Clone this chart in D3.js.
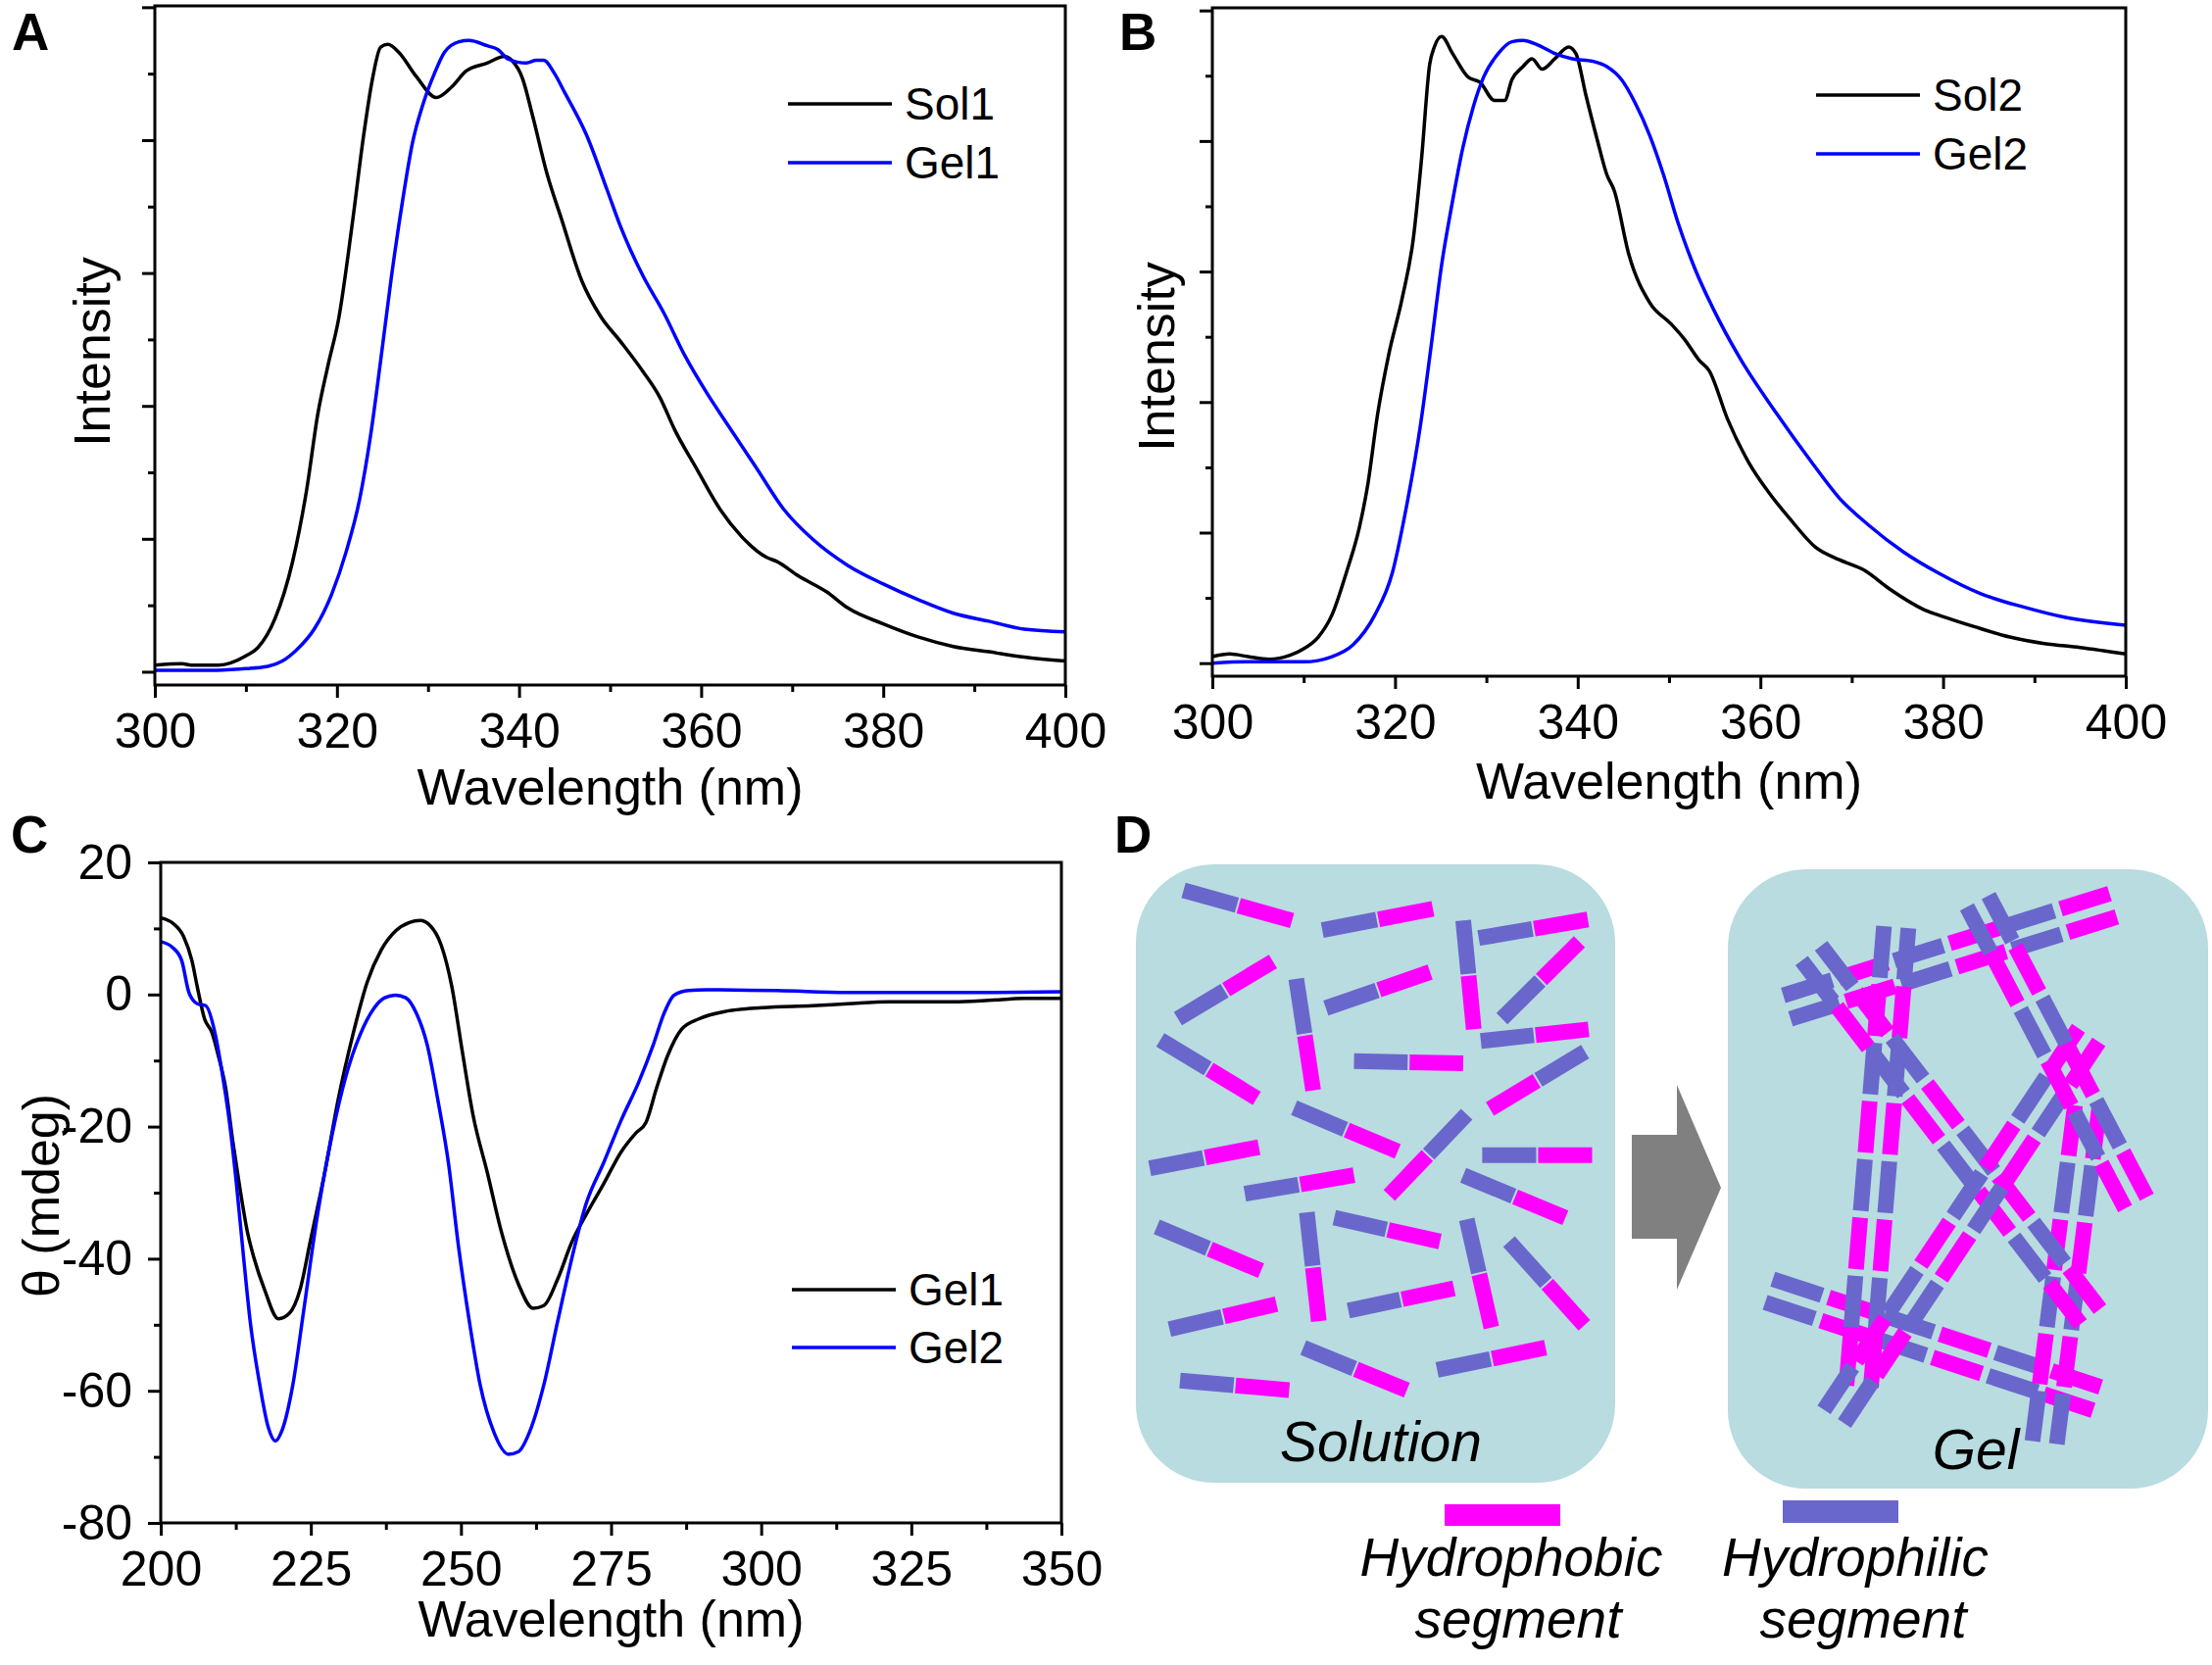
<!DOCTYPE html>
<html>
<head>
<meta charset="utf-8">
<script src="https://cdn.jsdelivr.net/npm/d3@7"></script>
<style>
body { margin: 0; background: #fff; }
text { font-family: "Liberation Sans", Arial, sans-serif; }
</style>
</head>
<body>
<svg width="2257" height="1699"></svg>
<script>
// ---- data ----
// A: fluorescence, wavelength (nm) vs intensity (a.u.)
var sol1 = [[300,0.05],[303,0.06],[304,0.05],[307,0.05],[310,0.12],[311.3,0.18],[313.2,0.40],[315.1,0.82],[316.7,1.38],[317.9,1.94],[319,2.30],[320.2,2.66],[321.7,3.38],[322.9,4.02],[323.9,4.46],[324.8,4.70],[325.6,4.72],[326.8,4.66],[328.7,4.48],[330.9,4.32],[332.6,4.40],[334.2,4.52],[336.5,4.58],[338.4,4.63],[339.2,4.60],[340.4,4.46],[341.5,4.18],[343.1,3.74],[344.6,3.42],[346.9,2.94],[348.9,2.68],[351.2,2.48],[353.6,2.26],[355.5,2.06],[357.1,1.82],[359.4,1.54],[362.1,1.22],[364.4,1.02],[367.2,0.86],[368.3,0.83],[370.7,0.72],[373.8,0.60],[376.1,0.48],[380,0.36],[383.9,0.26],[387.7,0.19],[391.6,0.15],[395.5,0.11],[400,0.08]];
var gel1 = [[300,0.01],[306.2,0.01],[309.3,0.02],[312.4,0.04],[314,0.08],[315.5,0.16],[317.5,0.32],[319.4,0.58],[321,0.90],[322.5,1.30],[323.7,1.78],[324.8,2.34],[326,2.98],[327.2,3.54],[328.3,3.98],[329.5,4.28],[330.7,4.50],[331.8,4.66],[333.4,4.74],[334.5,4.75],[336.5,4.71],[337.7,4.68],[338.8,4.61],[340.8,4.58],[341.9,4.60],[342.7,4.60],[343.9,4.50],[345,4.36],[347.4,4.04],[349.7,3.62],[351.2,3.34],[353.6,2.98],[355.9,2.70],[358.2,2.38],[360.6,2.10],[362.9,1.86],[366,1.54],[369.1,1.22],[372.2,1.00],[376.1,0.80],[380,0.66],[383.9,0.54],[387.7,0.44],[391.6,0.38],[395.5,0.32],[400,0.30]];
// B
var sol2 = [[300,0.05],[301.9,0.07],[303.9,0.05],[306.2,0.03],[308.5,0.06],[310,0.11],[311.6,0.20],[313.1,0.37],[314.7,0.70],[316.1,1.04],[317,1.36],[318.1,1.91],[319.3,2.36],[320.8,2.80],[322,3.25],[322.9,3.86],[323.8,4.59],[324.3,4.72],[325.1,4.80],[326.3,4.67],[328,4.49],[329.3,4.45],[330.9,4.31],[332,4.31],[332.8,4.47],[334,4.57],[335,4.63],[336.1,4.55],[337.5,4.63],[339,4.72],[339.8,4.67],[340.9,4.35],[342.1,4.02],[343.2,3.74],[344,3.62],[345.6,3.13],[347.9,2.76],[350.2,2.60],[351.7,2.48],[353.3,2.32],[354.4,2.24],[356.4,1.87],[358.7,1.54],[361,1.30],[363.3,1.10],[366,0.89],[368.7,0.79],[371.4,0.71],[374.1,0.57],[377.9,0.41],[380.3,0.35],[383.4,0.28],[387.3,0.20],[391.1,0.15],[395,0.12],[400,0.07]];
var gel2 = [[300,0],[303.9,0.01],[310,0.01],[313.1,0.05],[315.4,0.14],[317.8,0.37],[319.7,0.69],[321.2,1.18],[322.8,1.83],[323.9,2.40],[325.1,3.05],[326.3,3.54],[327.4,3.94],[328.6,4.27],[329.7,4.49],[331.3,4.67],[332.8,4.76],[334,4.77],[335.5,4.74],[337.5,4.67],[339.4,4.63],[341.7,4.61],[343.2,4.57],[344.8,4.47],[346.3,4.29],[347.9,4.04],[349.4,3.74],[351,3.37],[352.9,3.01],[354.8,2.72],[357.9,2.32],[361.8,1.91],[365.6,1.54],[368.7,1.26],[371.8,1.06],[375.7,0.85],[379.5,0.69],[384.2,0.53],[388.8,0.43],[393.4,0.35],[400,0.29]];
// C: circular dichroism, wavelength (nm) vs theta (mdeg)
var cdGel1 = [[200,11.6],[202,10.8],[203.8,8.8],[205.2,5.1],[206.1,1.1],[207.3,-3.7],[208.5,-5.7],[209.6,-9.3],[210.8,-14.1],[212,-22.2],[213.2,-29.4],[214.4,-35.8],[215.5,-39.8],[217.3,-44.7],[219.6,-49.1],[221.4,-48.3],[223.2,-44.7],[224.9,-37.4],[227.3,-27],[229.6,-15.7],[232,-6.1],[234.4,1.9],[236.7,6.7],[239.1,9.6],[241.4,10.9],[243.2,11.2],[244.9,10.4],[246.7,7.5],[248.5,1.1],[250.2,-8.5],[252,-18.2],[254.4,-27],[256.7,-35.8],[259.6,-43.9],[262,-47.5],[263.8,-47.1],[266.1,-43.1],[268.5,-37.4],[270.8,-33.4],[273.8,-28.6],[276.7,-23.8],[279.1,-21],[280.8,-19.4],[282.6,-14.1],[284.4,-9.3],[286.7,-5.3],[289.6,-3.7],[294.4,-2.5],[300.2,-2],[308.5,-1.7],[314.4,-1.4],[321.4,-1.1],[332,-1.1],[337.9,-0.9],[343.8,-0.6],[350,-0.6]];
var cdGel2 = [[200,8],[202,7.1],[203.5,5.1],[204.7,0.3],[206.1,-1.4],[207.5,-1.7],[209.1,-6.1],[210.2,-11.7],[211.4,-19],[212.6,-28.6],[213.8,-39.8],[214.9,-49.5],[216.5,-59.1],[217.9,-65.5],[219.1,-67.6],[220.2,-66],[222,-59.1],[223.8,-47.9],[226.1,-33.4],[228.5,-21.4],[230.8,-12.5],[233.2,-6.1],[235.5,-2.1],[237.3,-0.5],[239.1,-0.1],[240.8,-0.5],[242.6,-2.9],[244.4,-7.7],[246.1,-15.7],[247.9,-25.4],[249.6,-38.2],[251.4,-49.5],[253.2,-59.1],[255.5,-66.3],[257.9,-69.6],[259.6,-69.2],[261.4,-66.3],[263.8,-59.1],[266.1,-49.5],[268.5,-39.8],[270.8,-31.8],[273.8,-25.4],[276.7,-19],[279.6,-13.3],[282,-7.7],[283.8,-2.9],[285.5,-0.1],[287.9,0.6],[290.8,0.7],[302.6,0.6],[314.4,0.3],[337.9,0.3],[350,0.4]];

// tick values
var flMajor = [300, 320, 340, 360, 380, 400];
var flMinor = [310, 330, 350, 370, 390];
var intMajor = [0, 1, 2, 3, 4, 5];
var intMinor = [0.5, 1.5, 2.5, 3.5, 4.5];
var cdXMajor = [200, 225, 250, 275, 300, 325, 350];
var cdXMinor = [212.5, 237.5, 262.5, 287.5, 312.5, 337.5];
var cdYMajor = [-80, -60, -40, -20, 0, 20];
var cdYMinor = [-70, -50, -30, -10, 10];

// D: rods in the solution box, [blueEndX, blueEndY, pinkEndX, pinkEndY] (schematic units)
var solRods = [[108,108,262,165],[305,183,462,143],[505,165,520,370],[527,198,682,163],[560,350,670,205],[100,350,235,242],[268,275,292,485],[310,330,458,262],[75,390,212,500],[350,430,505,434],[530,392,683,370],[678,412,543,520],[265,518,412,600],[510,530,400,683],[532,607,688,607],[60,632,215,592],[195,680,350,645],[505,645,650,725],[70,742,218,825],[283,715,300,920],[322,725,472,770],[510,728,545,932],[570,770,677,928],[88,935,240,888],[342,900,492,858],[278,970,425,1050],[468,1012,622,970],[103,1032,258,1050]];
// D: fibre strands in the gel box, [x1, y1, x2, y2, first segment colour]
var gelStrands = [[175,350,1175,95,"b"],[120,1060,1125,1330,"b"],[510,150,395,1300,"b"],[1095,600,965,1440,"m"],[250,215,1105,1125,"b"],[320,1375,1100,420,"b"],[760,85,1245,840,"b"]];

var BLUE = "#0000ff", PINK = "#ff00ff", SLATE = "#6a67cc", TEAL = "#b8dcdf";

var svg = d3.select("svg");

function drawPanel(cfg) {
    var x = d3.scaleLinear().domain(cfg.xDomain).range([cfg.left, cfg.right]);
    var y = d3.scaleLinear().domain(cfg.yDomain).range([cfg.bottom, cfg.top]);
    var g = svg.append("g");

    g.append("g").attr("transform", "translate(0," + cfg.bottom + ")")
        .call(d3.axisBottom(x).tickValues(cfg.xMinor).tickSize(7).tickFormat(""));
    g.append("g").attr("transform", "translate(0," + cfg.bottom + ")")
        .call(d3.axisBottom(x).tickValues(cfg.xMajor).tickSize(13).tickPadding(15)
            .tickFormat(function(d) { return String(d); }));
    g.append("g").attr("transform", "translate(" + cfg.left + ",0)")
        .call(d3.axisLeft(y).tickValues(cfg.yMinor).tickSize(7).tickFormat(""));
    g.append("g").attr("transform", "translate(" + cfg.left + ",0)")
        .call(d3.axisLeft(y).tickValues(cfg.yMajor).tickSize(13).tickPadding(16)
            .tickFormat(cfg.yLabels ? function(d) { return String(d); } : ""));

    g.selectAll(".domain").remove();
    g.selectAll(".tick line").attr("stroke", "#000").attr("stroke-width", 3);
    g.selectAll(".tick text").attr("fill", "#000").attr("font-size", 50)
        .attr("font-family", "Liberation Sans, Arial, sans-serif");

    var line = d3.line()
        .curve(d3.curveMonotoneX)
        .x(function(d) { return x(d[0]); })
        .y(function(d) { return y(d[1]); });

    cfg.series.forEach(function(s) {
        g.append("path")
            .attr("d", line(s.data))
            .attr("fill", "none")
            .attr("stroke", s.color)
            .attr("stroke-width", 3.5)
            .attr("stroke-linejoin", "round");
    });

    g.append("rect")
        .attr("x", cfg.left).attr("y", cfg.top)
        .attr("width", cfg.right - cfg.left).attr("height", cfg.bottom - cfg.top)
        .attr("fill", "none").attr("stroke", "#000").attr("stroke-width", 3);

    // legend
    cfg.series.forEach(function(s, i) {
        var ly = cfg.legendY + i * cfg.legendStep;
        g.append("line")
            .attr("x1", cfg.legendX).attr("x2", cfg.legendX + 106)
            .attr("y1", ly).attr("y2", ly)
            .attr("stroke", s.color).attr("stroke-width", 3.5);
        g.append("text")
            .attr("x", cfg.legendX + 119).attr("y", ly + 16)
            .attr("font-size", 46).text(s.name);
    });

    g.append("text")
        .attr("x", (cfg.left + cfg.right) / 2).attr("y", cfg.titleY)
        .attr("text-anchor", "middle").attr("font-size", 52)
        .text("Wavelength (nm)");
    g.append("text")
        .attr("transform", "translate(" + cfg.yTitleX + "," + cfg.yTitleY + ") rotate(-90)")
        .attr("text-anchor", "middle").attr("font-size", 52)
        .text(cfg.yTitle);
    g.append("text")
        .attr("x", cfg.letterX).attr("y", cfg.letterY)
        .attr("font-size", 53).attr("font-weight", "bold")
        .text(cfg.letter);
}

drawPanel({
    letter: "A", letterX: 12, letterY: 51,
    left: 158, right: 1087, top: 6, bottom: 699,
    xDomain: [300, 400], yDomain: [-0.1, 5.01],
    xMajor: flMajor, xMinor: flMinor, yMajor: intMajor, yMinor: intMinor, yLabels: false,
    series: [{name: "Sol1", data: sol1, color: "#000"}, {name: "Gel1", data: gel1, color: BLUE}],
    legendX: 804, legendY: 106, legendStep: 60,
    titleY: 821, yTitle: "Intensity", yTitleX: 112, yTitleY: 359
});

drawPanel({
    letter: "B", letterX: 1142, letterY: 51,
    left: 1237, right: 2169, top: 8, bottom: 690,
    xDomain: [300, 400], yDomain: [-0.1, 5.02],
    xMajor: flMajor, xMinor: flMinor, yMajor: intMajor, yMinor: intMinor, yLabels: false,
    series: [{name: "Sol2", data: sol2, color: "#000"}, {name: "Gel2", data: gel2, color: BLUE}],
    legendX: 1853, legendY: 97, legendStep: 60,
    titleY: 815, yTitle: "Intensity", yTitleX: 1198, yTitleY: 364
});

drawPanel({
    letter: "C", letterX: 11, letterY: 870,
    left: 164, right: 1083, top: 880, bottom: 1554,
    xDomain: [200, 350], yDomain: [-80, 20],
    xMajor: cdXMajor, xMinor: cdXMinor, yMajor: cdYMajor, yMinor: cdYMinor, yLabels: true,
    series: [{name: "Gel1", data: cdGel1, color: "#000"}, {name: "Gel2", data: cdGel2, color: BLUE}],
    legendX: 808, legendY: 1316, legendStep: 59,
    titleY: 1670, yTitle: "\u03b8 (mdeg)", yTitleX: 60, yTitleY: 1220
});

// ---- panel D: schematic ----
var dg = svg.append("g");
dg.append("text").attr("x", 1137).attr("y", 870)
    .attr("font-size", 53).attr("font-weight", "bold").text("D");

// boxes
dg.append("rect").attr("x", 1159).attr("y", 882).attr("width", 489).attr("height", 631)
    .attr("rx", 80).attr("fill", TEAL);
dg.append("rect").attr("x", 1763).attr("y", 887).attr("width", 490).attr("height", 632)
    .attr("rx", 80).attr("fill", TEAL);

// arrow
dg.append("path")
    .attr("d", "M1665,1158 L1711,1158 L1711,1107 L1756,1212 L1711,1316 L1711,1264 L1665,1264 Z")
    .attr("fill", "#808080");

// solution rods: each a hydrophilic (slate) half and a hydrophobic (pink) half
var sx = d3.scaleLinear().domain([0, 1568]).range([1130, 2257]);
var sy = d3.scaleLinear().domain([0, 1568]).range([850, 1699]);
var rodW = 16;
solRods.forEach(function(r) {
    var x1 = sx(r[0]), y1 = sy(r[1]), x2 = sx(r[2]), y2 = sy(r[3]);
    var mx = (x1 + x2) / 2, my = (y1 + y2) / 2;
    var len = Math.hypot(x2 - x1, y2 - y1);
    var ux = (x2 - x1) / len, uy = (y2 - y1) / len;
    dg.append("line").attr("x1", x1).attr("y1", y1)
        .attr("x2", mx - ux).attr("y2", my - uy)
        .attr("stroke", SLATE).attr("stroke-width", rodW);
    dg.append("line").attr("x1", mx + ux).attr("y1", my + uy)
        .attr("x2", x2).attr("y2", y2)
        .attr("stroke", PINK).attr("stroke-width", rodW);
});

// gel network: double strands of alternating segments
var gx = d3.scaleLinear().domain([0, 1478]).range([1765, 2257]);
var gy = d3.scaleLinear().domain([0, 1570]).range([885, 1525]);
var segLen = 54, segGap = 7, half = 12.5;
gelStrands.forEach(function(s) {
    var x1 = gx(s[0]), y1 = gy(s[1]), x2 = gx(s[2]), y2 = gy(s[3]);
    var len = Math.hypot(x2 - x1, y2 - y1);
    var ux = (x2 - x1) / len, uy = (y2 - y1) / len;
    var px = -uy, py = ux;
    var n = Math.max(1, Math.round((len + segGap) / (segLen + segGap)));
    var sl = (len - (n - 1) * segGap) / n;
    [-half, half].forEach(function(off) {
        for (var i = 0; i < n; i++) {
            var a = i * (sl + segGap), b = a + sl;
            var isBlue = (i % 2 === 0) === (s[4] === "b");
            dg.append("line")
                .attr("x1", x1 + ux * a + px * off).attr("y1", y1 + uy * a + py * off)
                .attr("x2", x1 + ux * b + px * off).attr("y2", y1 + uy * b + py * off)
                .attr("stroke", isBlue ? SLATE : PINK).attr("stroke-width", rodW);
        }
    });
});

dg.append("text").attr("x", 1409).attr("y", 1491).attr("text-anchor", "middle")
    .attr("font-size", 57).attr("font-style", "italic").text("Solution");
dg.append("text").attr("x", 2016).attr("y", 1499).attr("text-anchor", "middle")
    .attr("font-size", 57).attr("font-style", "italic").text("Gel");

// legend for segments
dg.append("rect").attr("x", 1474).attr("y", 1535).attr("width", 118).attr("height", 22).attr("fill", PINK);
dg.append("rect").attr("x", 1819).attr("y", 1531).attr("width", 118).attr("height", 23).attr("fill", SLATE);
[["Hydrophobic", 1542, 1608], ["segment", 1549, 1671], ["Hydrophilic", 1893, 1608], ["segment", 1901, 1671]]
    .forEach(function(t) {
        dg.append("text").attr("x", t[1]).attr("y", t[2]).attr("text-anchor", "middle")
            .attr("font-size", 55).attr("font-style", "italic").text(t[0]);
    });
</script>
</body>
</html>
